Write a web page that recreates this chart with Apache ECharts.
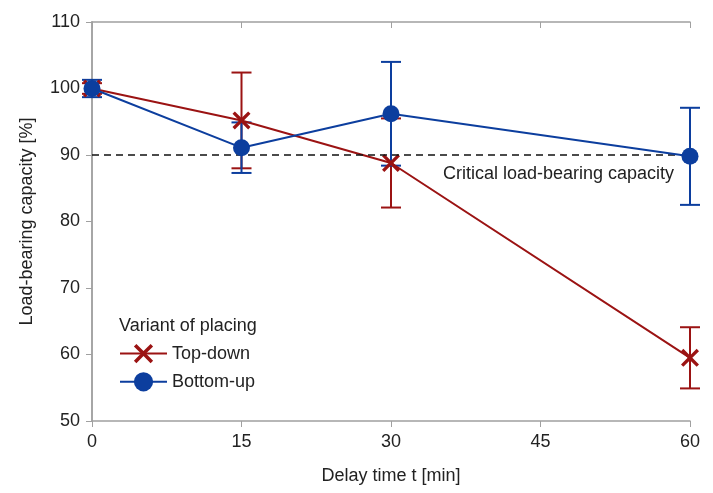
<!DOCTYPE html>
<html lang="en">
<head>
<meta charset="UTF-8">
<title>Load-bearing capacity vs delay time</title>
<script src="https://cdn.jsdelivr.net/npm/echarts@6/dist/echarts.min.js"></script>
<style>
  html, body { margin: 0; padding: 0; background: #fff; }
  #chart { width: 713px; height: 493px; }
</style>
</head>
<body>
<div id="chart"></div>
<script>
// data
var delays = [0, 15, 30, 60];
var topDown = [100, 95.2, 88.8, 59.5];
var topDownErr = [0.8, 7.2, 6.7, 4.6];
var bottomUp = [100, 91.1, 96.2, 89.8];
var bottomUpErr = [1.3, 3.8, 7.8, 7.3];
var criticalLevel = 90;
var xTicks = [0, 15, 30, 45, 60];
var yTicks = [50, 60, 70, 80, 90, 100, 110];

var RED = '#9b1313';
var BLUE = '#0c3e9e';
var FONT = "'Liberation Sans Narrow', 'Liberation Sans', Arial, sans-serif";
var AXIS_GREY = '#a0a0a0';

function pairs(xs, ys) {
  return xs.map(function (x, i) { return [x, ys[i]]; });
}
function errData(xs, ys, es) {
  return xs.map(function (x, i) { return [x, ys[i] - es[i], ys[i] + es[i]]; });
}
function errorBars(color) {
  return function (params, api) {
    var x = api.value(0);
    var lo = api.coord([x, api.value(1)]);
    var hi = api.coord([x, api.value(2)]);
    var w = 10;
    var st = { stroke: color, lineWidth: 2 };
    return {
      type: 'group',
      children: [
        { type: 'line', shape: { x1: lo[0], y1: lo[1], x2: hi[0], y2: hi[1] }, style: st },
        { type: 'line', shape: { x1: lo[0] - w, y1: lo[1], x2: lo[0] + w, y2: lo[1] }, style: st },
        { type: 'line', shape: { x1: hi[0] - w, y1: hi[1], x2: hi[0] + w, y2: hi[1] }, style: st }
      ]
    };
  };
}

// cross marker as a filled outline
var xSymbol = 'path://M0,1.3L1.3,0L5,3.7L8.7,0L10,1.3L6.3,5L10,8.7L8.7,10L5,6.3L1.3,10L0,8.7L3.7,5Z';

var chart = echarts.init(document.getElementById('chart'));
var option = {
  animation: false,
  textStyle: { fontFamily: FONT },
  grid: { left: 92, right: 23, top: 22, bottom: 72 },
  title: {
    text: 'Variant of placing',
    left: 114, top: 312,
    textStyle: { fontFamily: FONT, fontSize: 18, fontWeight: 'normal', color: '#222' }
  },
  legend: {
    orient: 'vertical',
    left: 114, top: 339,
    itemWidth: 47, itemHeight: 24, itemGap: 9,
    data: ['Top-down', 'Bottom-up'],
    textStyle: { fontFamily: FONT, fontSize: 18, color: '#222' }
  },
  xAxis: [{
    type: 'value', min: 0, max: 60, interval: 15,
    name: 'Delay time t [min]', nameLocation: 'middle', nameGap: 46,
    nameTextStyle: { fontSize: 18, color: '#222', fontFamily: FONT },
    axisLine: { lineStyle: { color: AXIS_GREY, width: 1.5 } },
    axisTick: { length: 6, lineStyle: { color: AXIS_GREY } },
    axisLabel: { fontSize: 18, color: '#222', margin: 12,
      formatter: function (v) { return xTicks.indexOf(v) >= 0 ? String(v) : ''; } },
    splitLine: { show: false }
  }, {
    type: 'value', min: 0, max: 60, interval: 15, position: 'top',
    axisLine: { show: true, lineStyle: { color: AXIS_GREY, width: 1.5 } },
    axisTick: { show: true, inside: true, length: 6, lineStyle: { color: AXIS_GREY } },
    axisLabel: { show: false },
    splitLine: { show: false }
  }],
  yAxis: [{
    type: 'value', min: 50, max: 110, interval: 10,
    name: 'Load-bearing capacity [%]', nameLocation: 'middle', nameGap: 56,
    nameTextStyle: { fontSize: 18, color: '#222', fontFamily: FONT },
    axisLine: { show: true, lineStyle: { color: AXIS_GREY, width: 1.5 } },
    axisTick: { show: true, length: 6, lineStyle: { color: AXIS_GREY } },
    axisLabel: { fontSize: 18, color: '#222', margin: 12,
      formatter: function (v) { return yTicks.indexOf(v) >= 0 ? String(v) : ''; } },
    splitLine: { show: false }
  }, {
    type: 'value', min: 50, max: 110, interval: 10, position: 'right',
    axisLine: { show: true, lineStyle: { color: AXIS_GREY, width: 1.5 } },
    axisTick: { show: true, inside: true, length: 6, lineStyle: { color: AXIS_GREY } },
    axisLabel: { show: false },
    splitLine: { show: false }
  }],
  series: [
    {
      type: 'custom', name: 'Top-down err', z: 3,
      renderItem: errorBars(RED),
      data: errData(delays, topDown, topDownErr)
    },
    {
      type: 'custom', name: 'Bottom-up err', z: 3,
      renderItem: errorBars(BLUE),
      data: errData(delays, bottomUp, bottomUpErr)
    },
    {
      type: 'line', name: 'Top-down', z: 4,
      data: pairs(delays, topDown),
      symbol: xSymbol, symbolSize: 18, showAllSymbol: true,
      lineStyle: { color: RED, width: 2 },
      itemStyle: { color: RED },
      markLine: {
        silent: true, symbol: 'none',
        lineStyle: { color: '#111', type: [7, 5], width: 1.5 },
        label: {
          position: 'insideEndBottom', distance: [16, 10],
          formatter: 'Critical load-bearing capacity',
          fontSize: 18, color: '#222', fontFamily: FONT
        },
        data: [{ yAxis: criticalLevel }]
      }
    },
    {
      type: 'line', name: 'Bottom-up', z: 5,
      data: pairs(delays, bottomUp),
      symbol: 'circle', symbolSize: 17, showAllSymbol: true,
      lineStyle: { color: BLUE, width: 2 },
      itemStyle: { color: BLUE }
    }
  ]
};
chart.setOption(option);
</script>
</body>
</html>
